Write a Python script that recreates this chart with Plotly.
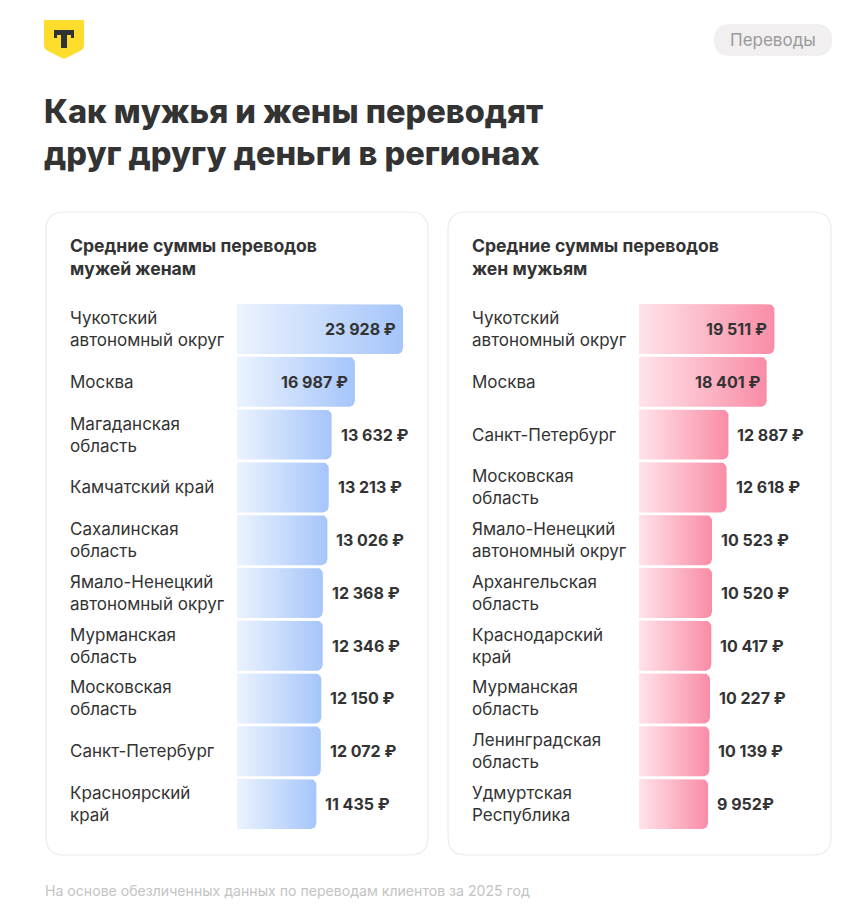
import math
import plotly.graph_objects as go

W, H = 856, 908
OFF = 8                  # page body margin in the browser
FW, FH = W - 2 * OFF, H - 2 * OFF

# ---------------- data ----------------
title_text = "Как мужья и жены переводят<br>друг другу деньги в регионах"
tag_text = "Переводы"
footer_text = "На основе обезличенных данных по переводам клиентов за 2025 год"

left_title = "Средние суммы переводов<br>мужей женам"
left_regions = [
    "Чукотский<br>автономный округ", "Москва", "Магаданская<br>область",
    "Камчатский край", "Сахалинская<br>область", "Ямало-Ненецкий<br>автономный округ",
    "Мурманская<br>область", "Московская<br>область", "Санкт-Петербург",
    "Красноярский<br>край",
]
left_values = [23928, 16987, 13632, 13213, 13026, 12368, 12346, 12150, 12072, 11435]
left_labels = ["23 928 ₽", "16 987 ₽", "13 632 ₽", "13 213 ₽", "13 026 ₽",
               "12 368 ₽", "12 346 ₽", "12 150 ₽", "12 072 ₽", "11 435 ₽"]

right_title = "Средние суммы переводов<br>жен мужьям"
right_regions = [
    "Чукотский<br>автономный округ", "Москва", "Санкт-Петербург",
    "Московская<br>область", "Ямало-Ненецкий<br>автономный округ",
    "Архангельская<br>область", "Краснодарский<br>край", "Мурманская<br>область",
    "Ленинградская<br>область", "Удмуртская<br>Республика",
]
right_values = [19511, 18401, 12887, 12618, 10523, 10520, 10417, 10227, 10139, 9952]
right_labels = ["19 511 ₽", "18 401 ₽", "12 887 ₽", "12 618 ₽", "10 523 ₽",
                "10 520 ₽", "10 417 ₽", "10 227 ₽", "10 139 ₽", "9 952₽"]

# ---------------- styling ----------------
FONT = "Inter"
DARK = "#333333"
SCALE = 0.00694          # px per ruble
ROW_TOP, ROW_BOT = 302.6, 830.4
BAR_HALF = 0.475
RADIUS_PX = 6
INSIDE_MIN = 15000

BLUE = [[0, "#ebf3fe"], [1, "#a5c5fa"]]
PINK = [[0, "#ffe4ea"], [1, "#f98ca6"]]


def px(x):
    return (x - OFF) / FW


def py(y):
    return 1 - (y - OFF) / FH


def rounded_rect(x0, y0, x1, y1, r):
    pts = [
        f"M{px(x0 + r)},{py(y0)}", f"L{px(x1 - r)},{py(y0)}",
        f"Q{px(x1)},{py(y0)} {px(x1)},{py(y0 + r)}",
        f"L{px(x1)},{py(y1 - r)}",
        f"Q{px(x1)},{py(y1)} {px(x1 - r)},{py(y1)}",
        f"L{px(x0 + r)},{py(y1)}",
        f"Q{px(x0)},{py(y1)} {px(x0)},{py(y1 - r)}",
        f"L{px(x0)},{py(y0 + r)}",
        f"Q{px(x0)},{py(y0)} {px(x0 + r)},{py(y0)}", "Z",
    ]
    return " ".join(pts)


row_h = (ROW_BOT - ROW_TOP) / 10
ry = RADIUS_PX / row_h
rx = RADIUS_PX / SCALE


def bar_shape(v, i):
    top, bot = i - BAR_HALF, i + BAR_HALF
    xs, ys = [0, v - rx], [top, top]
    for k in range(1, 8):
        a = -math.pi / 2 + (math.pi / 2) * k / 8
        xs.append(v - rx + rx * math.cos(a))
        ys.append(top + ry + ry * math.sin(a))
    xs += [v, v]
    ys += [top + ry, bot - ry]
    for k in range(1, 8):
        a = (math.pi / 2) * k / 8
        xs.append(v - rx + rx * math.cos(a))
        ys.append(bot - ry + ry * math.sin(a))
    xs += [v - rx, 0, 0]
    ys += [bot, bot, top]
    return xs, ys


fig = go.Figure()

panels = [
    dict(x0=46, x1=428, bar_x=237, lab_x=68, regions=left_regions, values=left_values,
         labels=left_labels, title=left_title, cs=BLUE, xa="x", ya="y"),
    dict(x0=448, x1=831, bar_x=639, lab_x=470, regions=right_regions, values=right_values,
         labels=right_labels, title=right_title, cs=PINK, xa="x2", ya="y2"),
]

shapes = []
annotations = []
layout_axes = {}

for n, p in enumerate(panels):
    shapes.append(dict(type="path", xref="paper", yref="paper",
                       path=rounded_rect(p["x0"], 212, p["x1"], 855, 18),
                       line=dict(color="#ebebeb", width=1.2), fillcolor="white", layer="below"))
    for i, (v, lab, reg) in enumerate(zip(p["values"], p["labels"], p["regions"])):
        xs, ys = bar_shape(v, i)
        fig.add_trace(go.Scatter(
            x=xs, y=ys, xaxis=p["xa"], yaxis=p["ya"], mode="lines", fill="toself",
            line=dict(width=0, color="rgba(0,0,0,0)"),
            fillgradient=dict(type="horizontal", colorscale=p["cs"], start=0, stop=v),
            hoverinfo="skip", showlegend=False))
        inside = v >= INSIDE_MIN
        annotations.append(dict(
            xref=p["xa"], yref=p["ya"], x=v, y=i, text=lab, showarrow=False,
            xanchor="right" if inside else "left", xshift=-5 if inside else 7,
            yanchor="middle", font=dict(family=FONT, size=16, color=DARK, weight=700)))
        annotations.append(dict(
            xref="paper", yref=p["ya"], x=px(p["lab_x"]), y=i, text=reg, showarrow=False,
            xanchor="left", yanchor="middle", align="left",
            font=dict(family=FONT, size=17, color=DARK)))
    annotations.append(dict(
        xref="paper", yref="paper", x=px(p["lab_x"]), y=py(233), text=p["title"],
        showarrow=False, xanchor="left", yanchor="top", align="left",
        font=dict(family=FONT, size=17.6, color=DARK, weight=700)))
    suffix = "" if n == 0 else "2"
    dom_w = p["x1"] - p["bar_x"]
    layout_axes["xaxis" + suffix] = dict(
        domain=[px(p["bar_x"]), px(p["x1"])], range=[0, dom_w / SCALE],
        visible=False, fixedrange=True)
    layout_axes["yaxis" + suffix] = dict(
        domain=[py(ROW_BOT), py(ROW_TOP)], range=[9.5, -0.5],
        visible=False, fixedrange=True)
    if n == 1:
        layout_axes["xaxis2"]["anchor"] = "y2"
        layout_axes["yaxis2"]["anchor"] = "x2"

# logo shield
shield = (f"M{px(44)},{py(20)} L{px(84)},{py(20)} L{px(84)},{py(45)} "
          f"Q{px(84)},{py(49)} {px(80)},{py(51)} L{px(64)},{py(59)} L{px(48)},{py(51)} "
          f"Q{px(44)},{py(49)} {px(44)},{py(45)} Z")
shapes.append(dict(type="path", xref="paper", yref="paper", path=shield,
                   fillcolor="#ffdd2d", line=dict(width=0)))
tee = (f"M{px(54)},{py(30)} L{px(74)},{py(30)} L{px(74)},{py(38)} L{px(71)},{py(38)} "
       f"L{px(71)},{py(35)} L{px(67)},{py(35)} L{px(67)},{py(48)} L{px(61)},{py(48)} "
       f"L{px(61)},{py(35)} L{px(57)},{py(35)} L{px(57)},{py(38)} L{px(54)},{py(38)} Z")
shapes.append(dict(type="path", xref="paper", yref="paper", path=tee,
                   fillcolor="#333333", line=dict(width=0)))

# tag pill
shapes.append(dict(type="path", xref="paper", yref="paper",
                   path=rounded_rect(714, 24, 832, 56, 16),
                   fillcolor="#f1efef", line=dict(width=0)))
annotations.append(dict(xref="paper", yref="paper", x=px(773), y=py(40), text=tag_text,
                        showarrow=False, xanchor="center", yanchor="middle",
                        font=dict(family=FONT, size=17, color="#9a9a9a")))

# title
annotations.append(dict(xref="paper", yref="paper", x=px(42), y=py(90), text=title_text,
                        showarrow=False, xanchor="left", yanchor="top", align="left",
                        font=dict(family=FONT, size=32.5, color=DARK, weight=800)))
# footer
annotations.append(dict(xref="paper", yref="paper", x=px(43), y=py(890), text=footer_text,
                        showarrow=False, xanchor="left", yanchor="middle", align="left",
                        font=dict(family=FONT, size=14.1, color="#c4c4c4")))

fig.update_layout(
    width=FW, height=FH, margin=dict(l=0, r=0, t=0, b=0),
    paper_bgcolor="white", plot_bgcolor="rgba(0,0,0,0)",
    shapes=shapes, annotations=annotations, showlegend=False,
    **layout_axes,
)

fig.write_html("out.html", config={"displayModeBar": False})
